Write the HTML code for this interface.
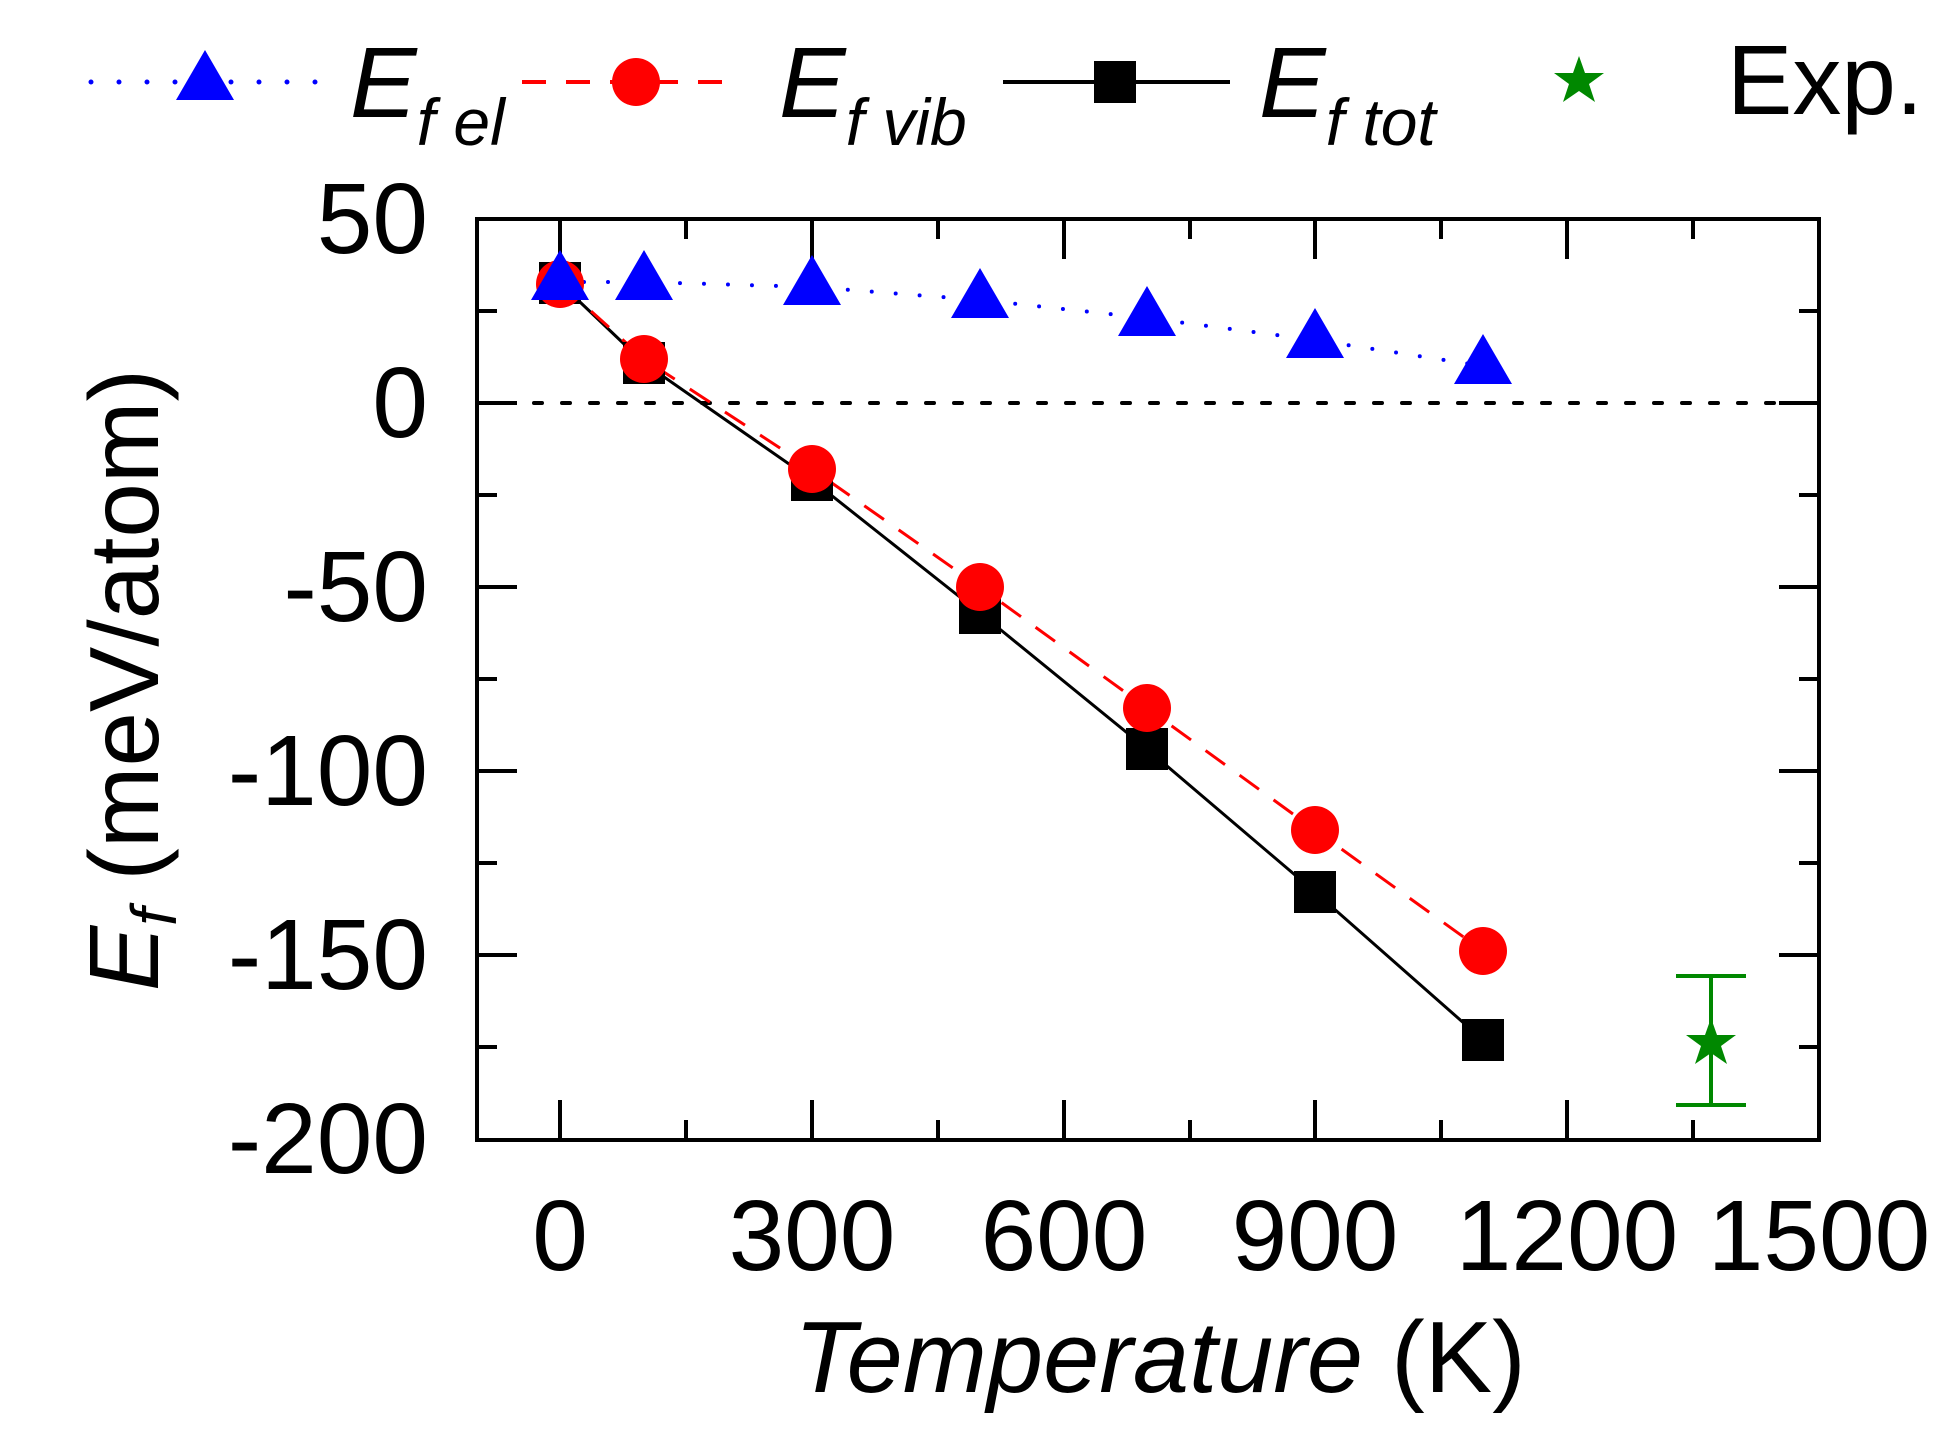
<!DOCTYPE html>
<html><head><meta charset="utf-8"><style>html,body{margin:0;padding:0;background:#fff}svg{display:block}</style></head><body>
<svg width="1957" height="1440" viewBox="0 0 1957 1440" xmlns="http://www.w3.org/2000/svg" font-family="Liberation Sans, Arial, sans-serif">
<rect width="1957" height="1440" fill="#fff"/>
<line x1="478" y1="403" x2="1790" y2="403" stroke="#000" stroke-width="4" stroke-dasharray="8,20" stroke-linecap="round"/>
<rect x="477" y="219" width="1342" height="921" fill="none" stroke="#000" stroke-width="4"/>
<g stroke="#000" stroke-width="4">
<line x1="560" y1="1140" x2="560" y2="1100"/><line x1="560" y1="219" x2="560" y2="259"/>
<line x1="812" y1="1140" x2="812" y2="1100"/><line x1="812" y1="219" x2="812" y2="259"/>
<line x1="1064" y1="1140" x2="1064" y2="1100"/><line x1="1064" y1="219" x2="1064" y2="259"/>
<line x1="1315" y1="1140" x2="1315" y2="1100"/><line x1="1315" y1="219" x2="1315" y2="259"/>
<line x1="1567" y1="1140" x2="1567" y2="1100"/><line x1="1567" y1="219" x2="1567" y2="259"/>
<line x1="686" y1="1140" x2="686" y2="1120"/><line x1="686" y1="219" x2="686" y2="239"/>
<line x1="938" y1="1140" x2="938" y2="1120"/><line x1="938" y1="219" x2="938" y2="239"/>
<line x1="1190" y1="1140" x2="1190" y2="1120"/><line x1="1190" y1="219" x2="1190" y2="239"/>
<line x1="1441" y1="1140" x2="1441" y2="1120"/><line x1="1441" y1="219" x2="1441" y2="239"/>
<line x1="1693" y1="1140" x2="1693" y2="1120"/><line x1="1693" y1="219" x2="1693" y2="239"/>
<line x1="477" y1="403" x2="517" y2="403"/><line x1="1819" y1="403" x2="1779" y2="403"/>
<line x1="477" y1="587" x2="517" y2="587"/><line x1="1819" y1="587" x2="1779" y2="587"/>
<line x1="477" y1="771" x2="517" y2="771"/><line x1="1819" y1="771" x2="1779" y2="771"/>
<line x1="477" y1="955" x2="517" y2="955"/><line x1="1819" y1="955" x2="1779" y2="955"/>
<line x1="477" y1="311" x2="497" y2="311"/><line x1="1819" y1="311" x2="1799" y2="311"/>
<line x1="477" y1="495" x2="497" y2="495"/><line x1="1819" y1="495" x2="1799" y2="495"/>
<line x1="477" y1="679" x2="497" y2="679"/><line x1="1819" y1="679" x2="1799" y2="679"/>
<line x1="477" y1="863" x2="497" y2="863"/><line x1="1819" y1="863" x2="1799" y2="863"/>
<line x1="477" y1="1047" x2="497" y2="1047"/><line x1="1819" y1="1047" x2="1799" y2="1047"/>
</g>
<polyline points="560,283 644,363 812,480 980,613 1147,749 1315,892 1483,1040" fill="none" stroke="#000" stroke-width="3"/>
<polyline points="560,283 644,359 812,469 980,587 1147,708 1315,830 1483,951" fill="none" stroke="#f00" stroke-width="3" stroke-dasharray="24,18"/>
<polyline points="560,282 644,282 812,287 980,300 1147,318 1315,340 1483,366" fill="none" stroke="#00f" stroke-width="4" stroke-dasharray="0,24" stroke-linecap="round"/>
<g fill="#000">
<rect x="539" y="262" width="42" height="42"/><rect x="623" y="342" width="42" height="42"/>
<rect x="791" y="459" width="42" height="42"/><rect x="959" y="592" width="42" height="42"/>
<rect x="1126" y="728" width="42" height="42"/><rect x="1294" y="871" width="42" height="42"/>
<rect x="1462" y="1019" width="42" height="42"/>
</g>
<g fill="#f00">
<circle cx="560" cy="284" r="24"/><circle cx="644" cy="359" r="24"/><circle cx="812" cy="469" r="24"/>
<circle cx="980" cy="587" r="24"/><circle cx="1147" cy="708" r="24"/><circle cx="1315" cy="830" r="24"/>
<circle cx="1483" cy="951" r="24"/>
</g>
<g fill="#00f">
<polygon points="560,250 531,300 589,300"/><polygon points="644,250 615,300 673,300"/>
<polygon points="812,255 783,305 841,305"/><polygon points="980,268 951,318 1009,318"/>
<polygon points="1147,286 1118,336 1176,336"/><polygon points="1315,308 1286,358 1344,358"/>
<polygon points="1483,334 1454,384 1512,384"/>
</g>
<g stroke="#080" stroke-width="4">
<line x1="1711" y1="976" x2="1711" y2="1105"/>
<line x1="1676" y1="976" x2="1746" y2="976"/>
<line x1="1676" y1="1105" x2="1746" y2="1105"/>
</g>
<polygon fill="#080" points="1711,1018 1717,1035 1736,1035 1721,1046 1727,1064 1711,1053 1695,1064 1701,1046 1686,1035 1705,1035"/>
<g font-size="100" fill="#000" text-anchor="end">
<text x="428" y="253">50</text><text x="428" y="437">0</text><text x="428" y="621">-50</text>
<text x="428" y="805">-100</text><text x="428" y="989">-150</text><text x="428" y="1173">-200</text>
</g>
<g font-size="100" fill="#000" text-anchor="middle">
<text x="560" y="1270">0</text><text x="812" y="1270">300</text><text x="1064" y="1270">600</text>
<text x="1315" y="1270">900</text><text x="1567" y="1270">1200</text><text x="1819" y="1270">1500</text>
</g>
<text x="1160" y="1392" font-size="101" text-anchor="middle"><tspan font-style="italic">Temperature</tspan> (K)</text>
<text transform="translate(158,680) rotate(-90)" font-size="98" text-anchor="middle"><tspan font-style="italic">E</tspan><tspan font-style="italic" font-size="64" dy="18">f</tspan><tspan dy="-18"> (meV/atom)</tspan></text>
<line x1="91" y1="82" x2="316" y2="82" stroke="#00f" stroke-width="5" stroke-dasharray="0,28" stroke-linecap="round"/>
<polygon fill="#00f" points="205,50 176,100 234,100"/>
<text x="350" y="117" font-size="100" font-style="italic">E<tspan font-size="66" dy="28">f el</tspan></text>
<line x1="522" y1="82" x2="733" y2="82" stroke="#f00" stroke-width="4" stroke-dasharray="24,20"/>
<circle cx="636" cy="82" r="24" fill="#f00"/>
<text x="779" y="117" font-size="100" font-style="italic">E<tspan font-size="66" dy="28">f vib</tspan></text>
<line x1="1003" y1="82" x2="1230" y2="82" stroke="#000" stroke-width="4"/>
<rect x="1094" y="61" width="42" height="42" fill="#000"/>
<text x="1259" y="117" font-size="100" font-style="italic">E<tspan font-size="66" dy="28">f tot</tspan></text>
<polygon fill="#080" points="1579,56 1585,73 1604,73 1589,84 1595,102 1579,91 1563,102 1569,84 1554,73 1573,73"/>
<text x="1727" y="114" font-size="98">Exp.</text>
</svg>
</body></html>
